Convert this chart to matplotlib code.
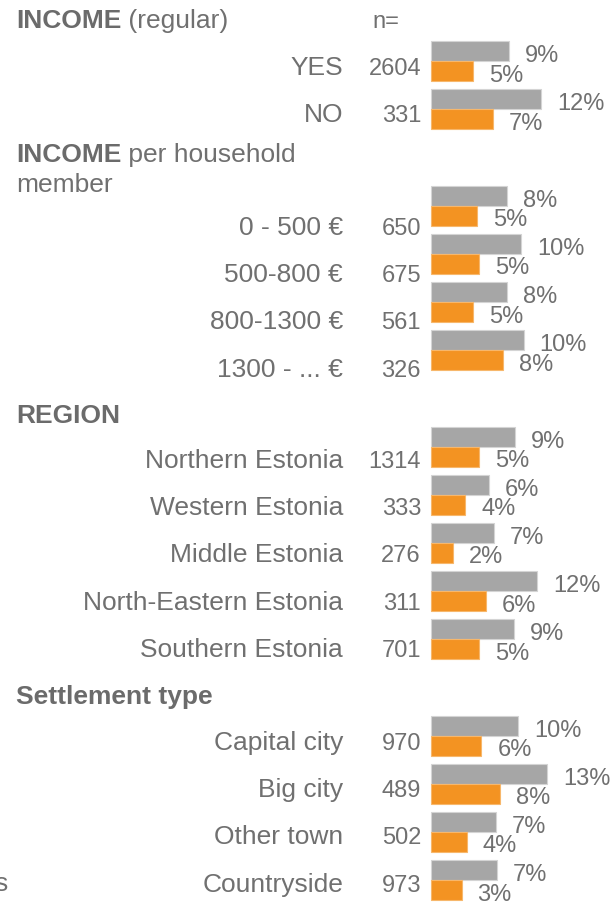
import matplotlib
matplotlib.use("Agg")
import matplotlib.pyplot as plt

plt.rcParams['font.family'] = ['Liberation Sans', 'DejaVu Sans']

# data (% values, bars drawn from these)
income_labels = ["YES", "NO"]
income_n = [2604, 331]
income_gray = [8.7, 12.2]
income_orange = [4.7, 6.9]

hh_labels = ["0 - 500 €", "500-800 €", "800-1300 €", "1300 - ... €"]
hh_n = [650, 675, 561, 326]
hh_gray = [8.4, 10.0, 8.4, 10.3]
hh_orange = [5.1, 5.3, 4.7, 8.0]

region_labels = ["Northern Estonia", "Western Estonia", "Middle Estonia",
                 "North-Eastern Estonia", "Southern Estonia"]
region_n = [1314, 333, 276, 311, 701]
region_gray = [9.3, 6.4, 7.0, 11.8, 9.2]
region_orange = [5.3, 3.8, 2.4, 6.1, 5.3]

settle_labels = ["Capital city", "Big city", "Other town", "Countryside"]
settle_n = [970, 489, 502, 973]
settle_gray = [9.7, 12.9, 7.2, 7.3]
settle_orange = [5.6, 7.7, 4.0, 3.4]

GRAY = "#A6A6A6"
ORANGE = "#F39322"
TXT = "#707070"
HEAD = "#6B6B6B"

W, H = 613, 904
X0 = 431      # pixel where bars start
SCALE = 9.0   # pixels per percent

fig = plt.figure(figsize=(W / 100, H / 100), dpi=100)
ax = fig.add_axes([0, 0, 1, 1])
ax.set_xlim(-X0 / SCALE, (W - X0) / SCALE)
ax.set_ylim(H, 0)
ax.axis("off")

tx = fig.add_axes([0, 0, 1, 1], sharey=ax)
tx.set_xlim(0, W)
tx.patch.set_alpha(0)
tx.axis("off")

# groups: (labels, n, gray, orange, first bar slot, first label baseline)
groups = [
    (income_labels, income_n, income_gray, income_orange, 0, 75),
    (hh_labels, hh_n, hh_gray, hh_orange, 3, 235),
    (region_labels, region_n, region_gray, region_orange, 8, 468),
    (settle_labels, settle_n, settle_gray, settle_orange, 14, 750),
]

for labels, ns, gray, orange, slot0, base0 in groups:
    for k, (lab, n, g, o) in enumerate(zip(labels, ns, gray, orange)):
        top = 42.3 + 48.16 * (slot0 + k)
        ax.barh(top + 10, g, height=20, left=0, color=GRAY,
                edgecolor="#D4D4D4", linewidth=0.8)
        ax.barh(top + 30, o, height=20, left=0, color=ORANGE,
                edgecolor="#F7B76B", linewidth=0.8)
        ax.annotate(f"{round(g)}%", (g, top + 20), xytext=(11.5, 0),
                    textcoords="offset points", va="baseline", ha="left",
                    fontsize=17, color=TXT)
        ax.annotate(f"{round(o)}%", (o, top + 39.5), xytext=(11.5, 0),
                    textcoords="offset points", va="baseline", ha="left",
                    fontsize=17, color=TXT)
        base = base0 + 47.2 * k
        tx.text(343, base, lab, ha="right", va="baseline",
                fontsize=19, color=TXT)
        tx.text(421, base, str(n), ha="right", va="baseline",
                fontsize=17, color=TXT)

# section headings
t = tx.text(16, 28, "INCOME", fontsize=19, fontweight="bold", color=HEAD,
            va="baseline")
tx.annotate(" (regular)", xycoords=t, xy=(1, 0), va="bottom",
            fontsize=19, color=TXT)
tx.text(372, 28, "n=", fontsize=17, color=TXT, va="baseline")

t = tx.text(16, 162, "INCOME", fontsize=19, fontweight="bold", color=HEAD,
            va="baseline")
tx.annotate(" per household", xycoords=t, xy=(1, 0), va="bottom",
            fontsize=19, color=TXT)
tx.text(16, 192, "member", fontsize=19, color=TXT, va="baseline")

tx.text(16, 423, "REGION", fontsize=19, fontweight="bold", color=HEAD,
        va="baseline")
tx.text(16, 704, "Settlement type", fontsize=19, fontweight="bold",
        color=HEAD, va="baseline")

# clipped text at the bottom-left edge
tx.text(8, 891, "s", ha="right", va="baseline", fontsize=19, color=TXT)

fig.savefig("out.png", dpi=100)
